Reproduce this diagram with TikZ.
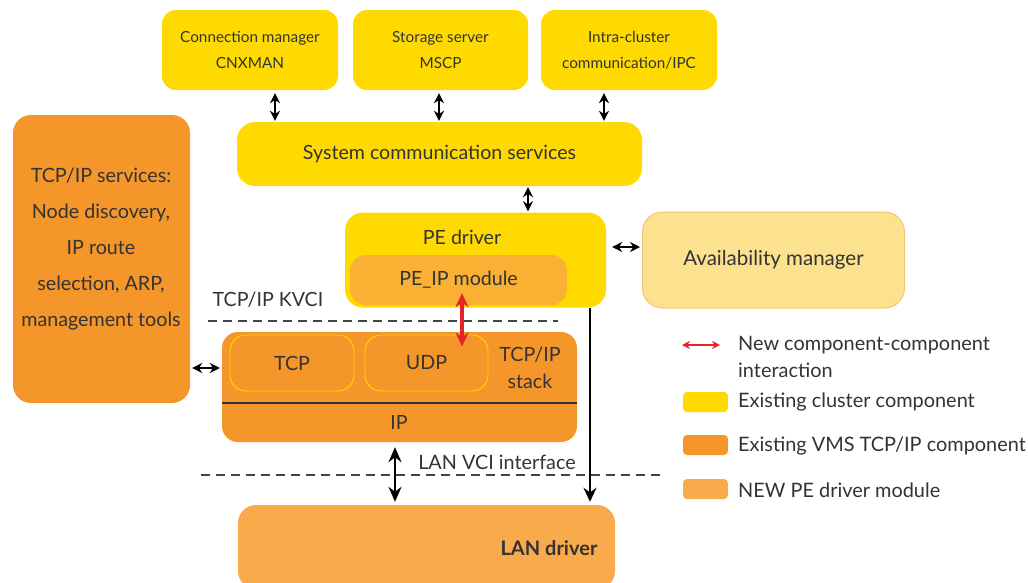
\documentclass[tikz,border=0pt]{standalone}
\usepackage{fontspec}
\setmainfont{Lato}
\usetikzlibrary{arrows.meta,calc}
\definecolor{cyel}{HTML}{FFDA00}
\definecolor{corg}{HTML}{F5962A}
\definecolor{cnew}{HTML}{F9AA4B}
\definecolor{cpeip}{HTML}{F9B033}
\definecolor{cam}{HTML}{FCE18E}
\definecolor{camb}{HTML}{F6C477}
\definecolor{ctxt}{HTML}{333333}
\definecolor{cred}{HTML}{E3242B}
\definecolor{cdash}{HTML}{444444}
\begin{document}
\begin{tikzpicture}[x=1pt,y=-1pt,
  box/.style={rounded corners=14pt, inner sep=0pt, text=ctxt, align=center},
  ybox/.style={box, fill=cyel},
  obox/.style={box, fill=corg},
  lbl/.style={inner sep=0pt, text=ctxt, align=center},
  dar/.style={{Stealth[length=10pt,width=10pt]}-{Stealth[length=10pt,width=10pt]}, line width=2pt, black},
  bar/.style={{Stealth[length=15pt,width=13pt]}-{Stealth[length=15pt,width=13pt]}, line width=2pt, black},
  rar/.style={{Stealth[length=14pt,width=13pt]}-{Stealth[length=14pt,width=13pt]}, line width=4pt, cred},
  dashl/.style={dash pattern=on 9pt off 6pt, line width=1.3pt, cdash},
  swatch/.style={rounded corners=4pt, minimum width=45pt, minimum height=20pt, inner sep=0pt},
  fs/.style={font=\fontsize{15.3}{26}\selectfont},
  fm/.style={font=\fontsize{19.6}{22}\selectfont}
]
\useasboundingbox (0,0) rectangle (1028,582);
\clip (0,0) rectangle (1028,582);
% top boxes
\node[ybox, fs, minimum width=176pt, minimum height=80pt] (cm) at (250,50) {Connection manager\\CNXMAN};
\node[ybox, fs, minimum width=175pt, minimum height=80pt] (ss) at (440.5,50) {Storage server\\MSCP};
\node[ybox, fs, minimum width=176pt, minimum height=80pt] (ic) at (629,50) {Intra-cluster\\communication/IPC};
% system communication services
\node[ybox, fm, rounded corners=18pt, minimum width=405pt, minimum height=64pt] (scs) at (439.5,154) {System communication services};
% PE driver
\node[ybox, rounded corners=18pt, minimum width=261pt, minimum height=95pt] (pe) at (475.5,260) {};
\node[lbl, fm] (pelbl) at (462,237) {PE driver};
\node[box, fm, fill=cpeip, rounded corners=16pt, minimum width=217pt, minimum height=50pt] (peip) at (458.5,280) {PE\_IP module};
% availability manager
\node[box, fill=cam, draw=camb, line width=1pt, rounded corners=20pt, minimum width=262pt, minimum height=96pt, font=\fontsize{20.5}{22}\selectfont] (am) at (773.5,260) {Availability manager};
% TCP/IP services
\node[obox, rounded corners=18pt, minimum width=177pt, minimum height=288pt] (svc) at (101.5,259) {};
\node[lbl, font=\fontsize{19.7}{36}\selectfont] (svctxt) at (101,249) {TCP/IP services:\\Node discovery,\\IP route\\selection, ARP,\\management tools};
% TCP/IP stack
\node[obox, rounded corners=16pt, minimum width=355pt, minimum height=110pt] (stk) at (399.5,387) {};
\node[obox, fm, draw=cyel, line width=0.9pt, rounded corners=16pt, minimum width=124pt, minimum height=56pt] (tcp) at (292,363) {TCP};
\node[obox, fm, draw=cyel, line width=0.9pt, rounded corners=16pt, minimum width=123pt, minimum height=56pt] (udp) at (426.5,363) {UDP};
\node[lbl, font=\fontsize{19.6}{27}\selectfont] (stklbl) at (530,368) {TCP/IP\\stack};
\coordinate (sepy) at (0,403);
\draw[line width=1.3pt, ctxt] (stk.west |- sepy) -- (stk.east |- sepy);
\node[lbl, fm] (iplbl) at (399,422) {IP};
% LAN driver
\node[box, fill=cnew, rounded corners=18pt, minimum width=377pt, minimum height=84pt] (lan) at (426.5,547) {};
\node[lbl, font=\fontsize{20}{22}\selectfont\bfseries] (lanlbl) at (549,548) {LAN driver};
% interface labels and dashed lines
\node[lbl, fm] (kvci) at (268,300) {TCP/IP KVCI};
\coordinate (k1) at (208,321); \coordinate (k2) at (558,321);
\draw[dashl] (k1) -- (k2);
\node[lbl, font=\fontsize{19.8}{22}\selectfont] (lvci) at (497,462) {LAN VCI interface};
\coordinate (l1) at (201,475); \coordinate (l2) at (660,475);
\draw[dashl] (l1) -- (l2);
% connectors
\coordinate (x1) at (275,0); \coordinate (x2) at (439,0); \coordinate (x3) at (604,0);
\draw[dar, shorten <=3pt, shorten >=1pt] (cm.south -| x1) -- (scs.north -| x1);
\draw[dar, shorten <=3pt, shorten >=1pt] (ss.south -| x2) -- (scs.north -| x2);
\draw[dar, shorten <=3pt, shorten >=1pt] (ic.south -| x3) -- (scs.north -| x3);
\coordinate (x4) at (528,0);
\draw[dar, shorten <=1pt, shorten >=1pt] (scs.south -| x4) -- (pe.north -| x4);
\coordinate (y5) at (0,247);
\draw[dar, shorten <=6pt, shorten >=2pt] (pe.east |- y5) -- (am.west |- y5);
\coordinate (y6) at (0,368);
\draw[dar, shorten <=2pt, shorten >=2pt] (svc.east |- y6) -- (stk.west |- y6);
\coordinate (x7) at (462,0);
\draw[rar, shorten <=-12pt, shorten >=-12pt] (peip.south -| x7) -- (udp.north -| x7);
\coordinate (x8) at (590,0);
\draw[-{Stealth[length=14pt,width=13pt]}, line width=2pt, shorten >=3pt] (pe.south -| x8) -- (lan.north -| x8);
\coordinate (x9) at (395,0);
\draw[bar, shorten <=5pt, shorten >=3pt] (stk.south -| x9) -- (lan.north -| x9);
% legend
\coordinate (lr1) at (682,345); \coordinate (lr2) at (720,345);
\draw[{Stealth[length=8pt,width=8pt]}-{Stealth[length=8pt,width=8pt]}, line width=1.8pt, cred] (lr1) -- (lr2);
\node[lbl, anchor=west, align=left, font=\fontsize{19.9}{27}\selectfont] (lt1) at (738,357) {New component-component\\interaction};
\node[swatch, fill=cyel] (sw1) at (705.5,402) {};
\node[lbl, anchor=west, font=\fontsize{19.9}{22}\selectfont] (lt2) at (738,402) {Existing cluster component};
\node[swatch, fill=corg] (sw2) at (705.5,445) {};
\node[lbl, anchor=west, font=\fontsize{19.9}{22}\selectfont] (lt3) at (738,446) {Existing VMS TCP/IP component};
\node[swatch, fill=cnew] (sw3) at (705.5,489) {};
\node[lbl, anchor=west, font=\fontsize{19.9}{22}\selectfont] (lt4) at (738,490) {NEW PE driver module};
\end{tikzpicture}
\end{document}
